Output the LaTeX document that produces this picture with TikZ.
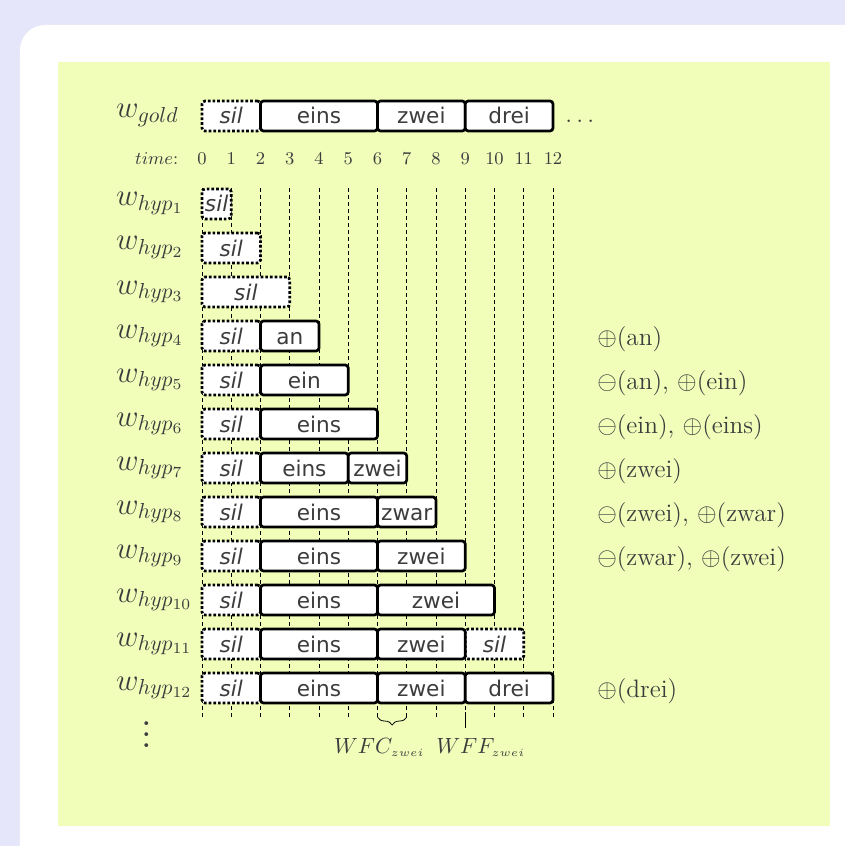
\RequirePackage{fix-cm}
\documentclass[tikz,border=0pt]{standalone}
\usepackage{amsmath,amssymb}
\usepackage{fontspec}
\newfontfamily\boxfont{DejaVu Sans}
\usetikzlibrary{positioning,calc,decorations.pathreplacing}
\definecolor{slidebg}{RGB}{230,230,250}
\definecolor{blockbg}{RGB}{241,254,186}
\definecolor{txtgray}{RGB}{60,60,60}
\newcommand{\unitw}{14.625pt}

\begin{document}
\begin{tikzpicture}[x=14.625pt, y=22pt,
    wbox/.style={draw, line width=1.35pt, rounded corners=1.5pt, fill=white,
        minimum height=15pt, inner sep=0pt, outer sep=0pt,
        text height=8pt, text depth=0pt, text=txtgray,
        font=\fontsize{10.8}{12}\boxfont},
    silbox/.style={wbox, densely dotted, font=\fontsize{10.8}{12}\boxfont\itshape},
    gridline/.style={thin, dash pattern=on 2pt off 1.5pt},
    wlab/.style={anchor=base west, inner sep=0pt, text=txtgray,
        font=\fontsize{15.5}{18}\selectfont},
    tlab/.style={anchor=base, inner sep=0pt, text=txtgray,
        font=\fontsize{9}{10}\selectfont},
    opslab/.style={anchor=base west, inner sep=0pt, text=txtgray,
        font=\fontsize{12.6}{14}\selectfont}]

    % Slide background
    \useasboundingbox (-101pt,80pt) rectangle (321.5pt,-343pt);
    \clip (-101pt,80pt) rectangle (321.5pt,-343pt);
    \fill[slidebg] (-101pt,80pt) rectangle (321.5pt,-343pt);
    \fill[white, rounded corners=12.5pt] (-91pt,67.5pt) rectangle (345pt,-365pt);
    \fill[blockbg] (-72pt,49pt) rectangle (314pt,-333pt);

    % Time grid
    \foreach \t in {0,...,12} {
        \coordinate (top\t) at (\t,-0.64);
        \coordinate (bot\t) at (\t,-12.66);
        \draw[gridline] (top\t) -- (bot\t);
        \node[tlab, yshift=-2pt] (t\t) at (\t,0) {$\t$};
    }
    \node[tlab, anchor=base east, yshift=-2pt] (time) at (-0.8,0) {$time$:};

    % Gold transcription
    \node[wlab, yshift=-1pt] (wgold) at (-2.95,1) {$w_{gold}$};
    \node[silbox, minimum width={2*\unitw}] (g0) at (1,1) {sil};
    \node[wbox, minimum width={4*\unitw}] (g2) at (4,1) {eins};
    \node[wbox, minimum width={3*\unitw}] (g6) at (7.5,1) {zwei};
    \node[wbox, minimum width={3*\unitw}] (g9) at (10.5,1) {drei};
    \node[inner sep=0pt, text=txtgray, font=\fontsize{12.6}{14}\selectfont] (gdots) at (12.92,0.89) {$\ldots$};

    % Hypotheses
    \foreach \r in {1,...,12}
        \node[wlab, yshift=-1pt] (whyp\r) at (-2.95,-\r) {$w_{hyp_{\r}}$};
    \foreach \r/\a/\b in {1/0/1, 2/0/2, 3/0/3, 4/0/2, 5/0/2, 6/0/2, 7/0/2, 8/0/2,
                          9/0/2, 10/0/2, 11/0/2, 12/0/2, 11/9/11}
        \node[silbox, minimum width={(\b-\a)*\unitw}] (s\r-\a) at ({(\a+\b)/2},-\r) {sil};
    \foreach \r/\a/\b/\w in {4/2/4/an, 5/2/5/ein, 6/2/6/eins, 7/2/5/eins, 7/5/7/zwei,
                             8/2/6/eins, 8/6/8/zwar, 9/2/6/eins, 9/6/9/zwei,
                             10/2/6/eins, 10/6/10/zwei, 11/2/6/eins, 11/6/9/zwei,
                             12/2/6/eins, 12/6/9/zwei, 12/9/12/drei}
        \node[wbox, minimum width={(\b-\a)*\unitw}] (h\r-\a) at ({(\a+\b)/2},-\r) {\w};
    \node[inner sep=0pt, scale=1.35, text=txtgray, font=\fontsize{14.4}{17}\selectfont] (vdots) at (-1.88,-12.88) {$\vdots$};

    % Edit operations
    \node[opslab, yshift=-4.5pt] (op4) at (13.5,-4) {$\oplus$(an)};
    \node[opslab, yshift=-4.5pt] (op5) at (13.5,-5) {$\ominus$(an), $\oplus$(ein)};
    \node[opslab, yshift=-4.5pt] (op6) at (13.5,-6) {$\ominus$(ein), $\oplus$(eins)};
    \node[opslab, yshift=-4.5pt] (op7) at (13.5,-7) {$\oplus$(zwei)};
    \node[opslab, yshift=-4.5pt] (op8) at (13.5,-8) {$\ominus$(zwei), $\oplus$(zwar)};
    \node[opslab, yshift=-4.5pt] (op9) at (13.5,-9) {$\ominus$(zwar), $\oplus$(zwei)};
    \node[opslab, yshift=-4.5pt] (op12) at (13.5,-12) {$\oplus$(drei)};

    % WFC and WFF
    \draw[decorate, decoration={brace, amplitude=4pt, mirror}] (bot6) -- (bot7);
    \coordinate (fftop) at (9,-12.55);
    \coordinate (ffbot) at (9,-12.9);
    \draw[semithick] (fftop) -- (ffbot);
    \node[opslab, font=\fontsize{11}{13}\selectfont] (wfc) at (4.5,-13.48) {$WFC_{\scriptscriptstyle zwei}$};
    \node[opslab, font=\fontsize{11}{13}\selectfont] (wff) at (8.0,-13.48) {$WFF_{\scriptscriptstyle zwei}$};
\end{tikzpicture}
\end{document}
